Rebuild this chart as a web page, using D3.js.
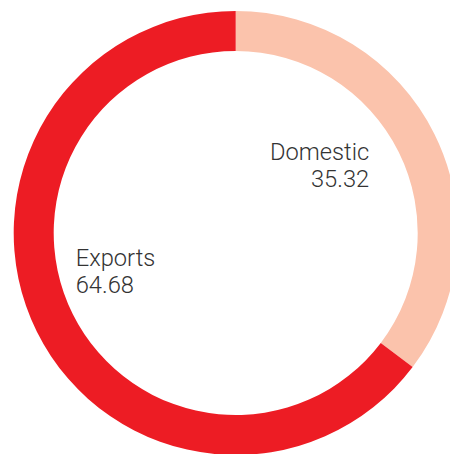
<!DOCTYPE html>
<html>
<head>
<meta charset="utf-8">
<script src="https://cdn.jsdelivr.net/npm/d3@7"></script>
<style>
  body { margin: 0; background: #fff; }
  text { font-family: Roboto, "Noto Sans", sans-serif; font-weight: 300; fill: #333; }
</style>
</head>
<body>
<svg class="donut" width="450" height="454"></svg>
<script>
var categories = ["Domestic", "Exports"];
var values = [35.32, 64.68];
var colors = ["#fbc3ac", "#ed1c24"];

var w = +d3.select("svg.donut").attr("width"),
    h = +d3.select("svg.donut").attr("height");

// center and radii of the ring
var cx = 235.7, cy = 233,
    outer = 222, inner = 182;

var data = categories.map(function(c, i) { return {name: c, value: values[i], color: colors[i]}; });

var pie = d3.pie()
    .sort(null)
    .value(function(d) { return d.value; });

var arc = d3.arc()
    .innerRadius(inner)
    .outerRadius(outer);

var svg = d3.select("svg.donut")
  .append("g")
    .attr("transform", "translate(" + cx + "," + cy + ")");

svg.selectAll("path")
    .data(pie(data))
    .enter()
    .append("path")
      .attr("d", arc)
      .attr("fill", function(d) { return d.data.color; });

// label anchors (relative to center)
var labelPos = {
    Domestic: {x: 133.5, y: -73, anchor: "end"},
    Exports: {x: -160, y: 33, anchor: "start"}
};

var labels = svg.selectAll("text.lbl")
    .data(data)
    .enter()
    .append("text")
      .attr("class", "lbl")
      .attr("text-anchor", function(d) { return labelPos[d.name].anchor; })
      .style("font-size", "23.7px");

labels.append("tspan")
    .attr("x", function(d) { return labelPos[d.name].x; })
    .attr("y", function(d) { return labelPos[d.name].y; })
    .text(function(d) { return d.name; });

labels.append("tspan")
    .attr("x", function(d) { return labelPos[d.name].x; })
    .attr("y", function(d) { return labelPos[d.name].y + 27; })
    .text(function(d) { return d3.format(".2f")(d.value); });
</script>
</body>
</html>
